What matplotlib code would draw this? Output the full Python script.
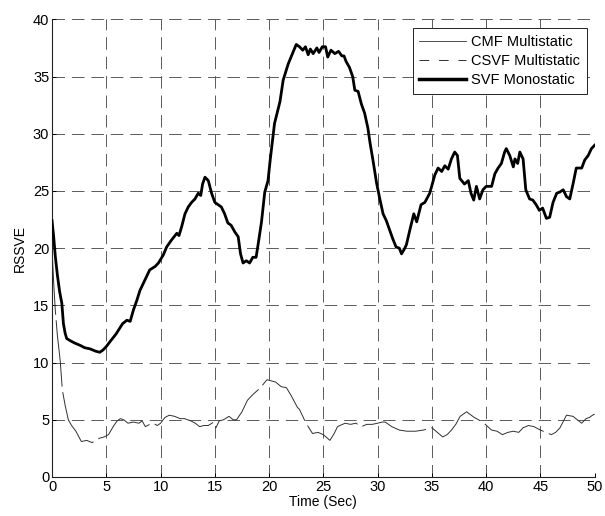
import matplotlib
matplotlib.use('Agg')
import numpy as np
import matplotlib.pyplot as plt
from matplotlib.lines import Line2D

plt.rcParams['font.family'] = ['Liberation Sans', 'DejaVu Sans']
plt.rcParams['lines.scale_dashes'] = False

# SVF monostatic error (thick curve)
svf_t = [0, 0.15, 0.3, 0.5, 0.7, 0.9, 1.05, 1.2, 1.35, 1.7, 2.1, 2.6, 3.0, 3.5, 4.0, 4.4,
         4.7, 5.0, 5.4, 5.9, 6.5, 6.9, 7.2, 7.5, 7.8, 8.1, 8.6, 9.0, 9.5, 9.8, 10.25, 10.56,
         11.0, 11.5, 11.7, 11.95, 12.25, 12.55, 12.86, 13.17, 13.47, 13.7, 13.87, 14.09, 14.4,
         14.7, 15.0, 15.3, 15.6, 15.9, 16.2, 16.5, 16.85, 17.15, 17.37, 17.6, 17.9, 18.2, 18.5,
         18.8, 19.0, 19.3, 19.6, 19.9, 20.1, 20.5, 21.0, 21.3, 21.76, 22.2, 22.5, 22.8, 23.1,
         23.35, 23.6, 23.8, 24.06, 24.4, 24.6, 24.9, 25.2, 25.4, 25.7, 26.06, 26.4, 26.7, 26.9,
         27.1, 27.4, 27.7, 27.9, 28.2, 28.5, 28.8, 29.1, 29.3, 29.6, 29.9, 30.2, 30.5, 30.8,
         31.1, 31.4, 31.7, 32.0, 32.2, 32.45, 32.65, 32.97, 33.33, 33.6, 34.0, 34.35, 34.8,
         35.27, 35.57, 35.9, 36.19, 36.5, 36.8, 37.1, 37.35, 37.57, 38.0, 38.35, 38.6, 38.85,
         39.1, 39.4, 39.7, 40.0, 40.5, 40.8, 41.1, 41.4, 41.7, 41.85, 42.17, 42.5, 42.65, 42.9,
         43.1, 43.4, 43.65, 44.0, 44.3, 44.6, 44.9, 45.2, 45.55, 45.85, 46.16, 46.5, 46.78,
         47.1, 47.4, 47.7, 48.0, 48.3, 48.8, 49.08, 49.4, 49.7, 50.0]
svf_y = [22.4, 21.0, 19.3, 17.6, 16.2, 15.2, 13.4, 12.6, 12.1, 11.9, 11.7, 11.5, 11.3, 11.2, 11.0, 10.9,
         11.1, 11.4, 11.9, 12.5, 13.4, 13.7, 13.6, 14.6, 15.4, 16.3, 17.3, 18.1, 18.4, 18.7, 19.4, 20.1,
         20.7, 21.3, 21.1, 21.9, 23.0, 23.6, 24.0, 24.3, 24.8, 24.6, 25.6, 26.2, 25.9,
         24.8, 24.0, 23.8, 23.6, 23.0, 22.2, 22.0, 21.4, 21.0, 19.5, 18.7, 18.9, 18.7, 19.2,
         19.2, 20.4, 22.3, 24.9, 25.9, 27.7, 30.9, 32.8, 34.7, 36.1, 37.1, 37.8, 37.6, 37.3,
         37.6, 36.9, 37.4, 37.0, 37.5, 37.1, 37.6, 37.6, 36.7, 37.3, 37.0, 37.2, 36.8, 36.8,
         36.3, 35.8, 35.0, 33.8, 33.7, 32.6, 31.8, 30.5, 29.2, 27.5, 25.7, 24.3, 23.0, 22.4,
         21.6, 20.8, 20.1, 20.0, 19.5, 19.9, 20.3, 21.6, 23.0, 22.3, 23.8, 24.0, 24.8,
         26.4, 27.0, 26.7, 27.2, 26.9, 27.8, 28.4, 28.1, 26.1, 25.6, 25.9, 24.8, 24.2,
         25.4, 24.3, 25.1, 25.4, 25.4, 26.5, 27.0, 27.4, 28.4, 28.7, 28.1, 27.1, 27.8, 27.4,
         28.4, 27.8, 25.1, 24.3, 24.2, 23.8, 23.3, 23.5, 22.6, 22.7, 24.0, 24.8, 24.9,
         25.1, 24.5, 24.3, 25.6, 27.0, 27.0, 27.7, 28.1, 28.7, 29.0]

# CMF multistatic follows the SVF curve and sits under it
cmf_t = svf_t
cmf_y = svf_y

# CSVF multistatic error (lower curve)
csvf_t = [0, 0.15, 0.3, 0.5, 0.75, 0.95, 1.2, 1.5, 1.8, 2.2, 2.7, 3.2, 3.7, 4.0, 4.4, 4.8, 5.2,
          5.7, 6.0, 6.3, 6.6, 7.0, 7.5, 8.0, 8.3, 8.6, 9.0, 9.3, 9.7, 10.0, 10.4, 10.8, 11.3, 11.8,
          12.2, 12.8, 13.2, 13.6, 14.0, 14.4, 14.9, 15.1, 15.4, 15.8, 16.3, 16.7, 17.0, 17.5,
          18.0, 18.5, 19.2, 19.8, 20.2, 20.6, 21.1, 21.6, 22.1, 22.6, 22.8, 23.4, 24.0, 24.5,
          25.0, 25.6, 26.0, 26.3, 27.0, 27.5, 28.0, 28.5, 29.0, 29.5, 30.0, 30.4, 30.7, 31.3,
          32.0, 32.7, 33.5, 34.2, 35.0, 35.5, 36.0, 36.4, 36.8, 37.2, 37.6, 38.2, 38.9, 39.3,
          39.8, 40.5, 41.0, 41.5, 42.0, 42.5, 43.0, 43.4, 43.9, 44.4, 45.0, 45.5, 46.0, 46.4,
          46.8, 47.4, 48.0, 48.4, 48.8, 49.2, 49.5, 49.8, 50.0]
csvf_y = [20.0, 17.0, 14.6, 12.3, 10.2, 7.6, 6.3, 5.0, 4.5, 4.0, 3.1, 3.2, 3.0, 3.2, 3.4, 3.5, 3.7,
          4.5, 4.9, 5.1, 5.0, 4.7, 4.8, 4.7, 4.9, 4.4, 4.6, 4.7, 4.5, 4.7, 5.2, 5.4, 5.3, 5.1,
          5.1, 4.9, 4.7, 4.4, 4.5, 4.5, 4.8, 4.3, 4.9, 5.0, 5.3, 5.0, 5.0, 5.7,
          6.7, 7.2, 7.8, 8.5, 8.4, 8.3, 7.9, 7.8, 7.0, 6.1, 5.9, 4.7, 3.8, 3.9,
          3.7, 3.2, 3.8, 4.4, 4.7, 4.6, 4.7, 4.4, 4.6, 4.6, 4.7, 4.8, 4.8, 4.4,
          4.1, 4.0, 4.0, 4.1, 4.3, 3.9, 3.5, 3.7, 4.1, 4.6, 5.3, 5.7, 5.2, 5.0,
          4.7, 4.1, 4.0, 3.7, 3.9, 4.0, 3.9, 4.3, 4.5, 4.4, 4.1, 3.9, 3.7, 3.9,
          4.3, 5.4, 5.3, 5.0, 4.7, 5.1, 5.2, 5.4, 5.5]

x_ticks = [0, 5, 10, 15, 20, 25, 30, 35, 40, 45, 50]
y_ticks = [0, 5, 10, 15, 20, 25, 30, 35, 40]

fig = plt.figure(figsize=(6.05, 5.16), dpi=100)
ax = fig.add_axes([0.086, 0.0756, 0.897, 0.887])

ax.plot(cmf_t, cmf_y, color='#303030', lw=0.6, zorder=3)
ax.plot(csvf_t, csvf_y, color='#303030', lw=0.7, linestyle=(0, (48, 4)), zorder=3)
ax.plot(svf_t, svf_y, color='black', lw=2.0, zorder=4)

ax.set_xlim(0, 50)
ax.set_ylim(0, 40)
ax.set_xticks(x_ticks)
ax.set_yticks(y_ticks)
ax.tick_params(direction='in', length=3, width=0.7, labelsize=10.5, pad=2)
ax.grid(True, color='#5a5a5a', lw=0.7, linestyle=(0, (9, 5)))
for s in ['top', 'right']:
    ax.spines[s].set_visible(False)
for s in ['left', 'bottom']:
    ax.spines[s].set_linewidth(0.8)
    ax.spines[s].set_color('#222222')

ax.set_xlabel('Time (Sec)', fontsize=10, labelpad=1)
ax.set_ylabel('RSSVE', fontsize=10, labelpad=4)

handles = [
    Line2D([], [], color='#303030', lw=0.6),
    Line2D([], [], color='#303030', lw=0.7, linestyle=(0, (7, 7))),
    Line2D([], [], color='black', lw=2.5),
]
labels = ['CMF Multistatic', 'CSVF Multistatic', 'SVF Monostatic']
leg = ax.legend(handles, labels, loc='upper right', bbox_to_anchor=(0.985, 0.98),
                fontsize=10.5, frameon=True, fancybox=False, framealpha=1,
                edgecolor='#222222', handlelength=3.2, handletextpad=0.35,
                borderpad=0.45, labelspacing=0.35, borderaxespad=0)
leg.get_frame().set_linewidth(0.7)

fig.savefig('out.png', dpi=100)
